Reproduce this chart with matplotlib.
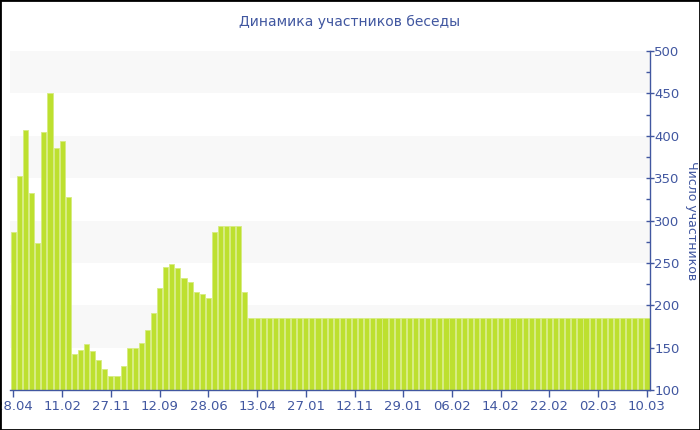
import matplotlib
matplotlib.use("Agg")
import matplotlib.pyplot as plt
from matplotlib.patches import Rectangle
from matplotlib.ticker import MultipleLocator

# участники беседы по дням
members = [287, 352, 407, 333, 274, 404, 450, 385, 394, 328,
           142, 147, 154, 146, 135, 125, 117, 117, 128, 150,
           150, 155, 171, 191, 220, 245, 249, 244, 232, 227,
           216, 213, 209, 287, 294, 294, 294, 294, 216,
           185, 185, 185, 185, 185, 185, 185, 185, 185, 185,
           185, 185, 185, 185, 185, 185, 185, 185, 185, 185,
           185, 185, 185, 185, 185, 185, 185, 185, 185, 185,
           185, 185, 185, 185, 185, 185, 185, 185, 185, 185,
           185, 185, 185, 185, 185, 185, 185, 185, 185, 185,
           185, 185, 185, 185, 185, 185, 185, 185, 185, 185,
           185, 185, 185, 185, 185, 185]
# подписи дат (каждый 8-й столбец)
date_labels = ["28.04", "11.02", "27.11", "12.09", "28.06", "13.04", "27.01",
               "12.11", "29.01", "06.02", "14.02", "22.02", "02.03", "10.03"]
label_step = 8

blue = "#4157a0"
bar_color = "#bde02f"

fig = plt.figure(figsize=(7, 4.3), dpi=100)
ax = fig.add_axes([10 / 700, 40 / 430, 640 / 700, 339 / 430])

# полосы фона
for lo in range(150, 500, 100):
    ax.axhspan(lo, lo + 50, color="#f8f8f8", zorder=0, lw=0)

x = list(range(len(members)))
ax.bar(x, members, width=0.84, color=bar_color, edgecolor="#d6ec80",
       linewidth=0.6, zorder=2)

ax.set_xlim(-0.57, len(members) - 0.5)
ax.set_ylim(100, 500)

ax.set_xticks(x[::label_step])
ax.set_xticklabels(date_labels)

ax.yaxis.tick_right()
ax.yaxis.set_label_position("right")
ax.yaxis.set_major_locator(MultipleLocator(50))
ax.yaxis.set_minor_locator(MultipleLocator(25))

for s in ["top", "left"]:
    ax.spines[s].set_visible(False)
for s in ["bottom", "right"]:
    ax.spines[s].set_color(blue)
    ax.spines[s].set_linewidth(1)

ax.tick_params(axis="x", colors=blue, labelsize=9.5, length=5, width=1, pad=2)
ax.tick_params(axis="y", which="major", colors=blue, labelsize=9.5,
               length=6, width=1, direction="inout", pad=0)
ax.tick_params(axis="y", which="minor", colors=blue, length=3, width=1,
               direction="in")

ax.set_ylabel("Число участников", color=blue, fontsize=9, rotation=270,
              labelpad=13)
fig.text(0.5, 1 - 22 / 430, "Динамика участников беседы", color=blue,
         fontsize=10, ha="center", va="center")

# рамка вокруг картинки
fig.patches.append(Rectangle((0, 0), 1, 1, transform=fig.transFigure,
                             fill=False, edgecolor="black", linewidth=2))

fig.savefig("out.png", dpi=100)
